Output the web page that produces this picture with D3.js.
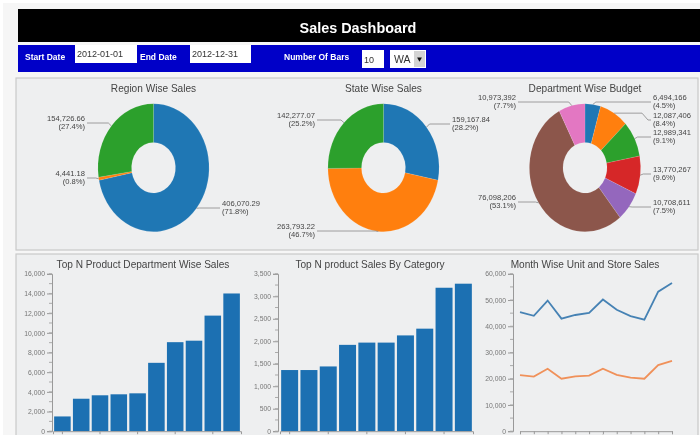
<!DOCTYPE html>
<html><head><meta charset="utf-8">
<script src="https://cdn.jsdelivr.net/npm/d3@7/dist/d3.min.js"></script>
<style>
html,body{margin:0;padding:0;background:#fff;overflow:hidden}
svg{display:block;filter:blur(.55px);font-family:"Liberation Sans",Arial,sans-serif}
</style></head><body>
<svg id="c" width="700" height="435"></svg>
<script>
// ---- data ----
const regionValues=[406070.29,4441.18,154726.66];
const regionLabels=["406,070.29","4,441.18","154,726.66"];
const regionPct=["(71.8%)","(0.8%)","(27.4%)"];
const stateValues=[159167.84,263793.22,142277.07];
const stateLabels=["159,167.84","263,793.22","142,277.07"];
const statePct=["(28.2%)","(46.7%)","(25.2%)"];
const deptValues=[6494166,12087406,12989341,13770267,10708611,76098206,10973392];
const deptLabels=["6,494,166","12,087,406","12,989,341","13,770,267","10,708,611","76,098,206","10,973,392"];
const deptPct=["(4.5%)","(8.4%)","(9.1%)","(9.6%)","(7.5%)","(53.1%)","(7.7%)"];
const deptSales=[1500,3300,3650,3750,3850,6950,9050,9200,11750,14000];
const catSales=[1360,1360,1440,1920,1970,1970,2130,2280,3190,3280];
const months=["Jan","Feb","Mar","Apr","May","Jun","Jul","Aug","Sep","Oct","Nov","Dec"];
const storeSales=[45400,44000,49800,42900,44300,45100,50200,46300,43900,42500,53200,56500];
const unitSales=[21400,20800,23800,20000,20900,21200,23800,21500,20400,20000,25200,26800];
const barIdx=[1,2,3,4,5,6,7,8,9,10];
const palette=["#1f77b4","#ff7f0e","#2ca02c","#d62728","#9467bd","#8c564b","#e377c2"];

const svg=d3.select("#c");
// ---- page frame ----
svg.append("rect").attr("x",3).attr("y",3).attr("width",697).attr("height",432).attr("fill","#f6f6f6");
svg.append("rect").attr("x",18).attr("y",9).attr("width",682).attr("height",33).attr("fill","#000");
svg.append("rect").attr("x",18).attr("y",45).attr("width",682).attr("height",27).attr("fill","#0000c8");
svg.append("text").attr("x",358).attr("y",33).attr("text-anchor","middle").attr("fill","#fff")
  .attr("font-weight","bold").attr("font-size",14.4).text("Sales Dashboard");
[["Start Date",25],["End Date",140],["Number Of Bars",284]].forEach(([t,x])=>
  svg.append("text").attr("x",x).attr("y",60).attr("fill","#fff").attr("font-weight","bold").attr("font-size",8.5).text(t));
[[75,62,45,18,"2012-01-01",77,57],[190,61,45,18,"2012-12-31",192,57],[362,22,50,18,"10",364,63],[390,36,50,18,"WA",394,63]].forEach(([x,w,y,h,t,tx,ty])=>{
  svg.append("rect").attr("x",x).attr("y",y).attr("width",w).attr("height",h).attr("fill","#fff");
  svg.append("text").attr("x",tx).attr("y",ty).attr("fill","#333").attr("font-size",t==="WA"?10.5:9).text(t);
});
svg.append("rect").attr("x",414).attr("y",51).attr("width",11).attr("height",16).attr("fill","#d4d4d4");
svg.append("path").attr("d",d3.symbol(d3.symbolTriangle,10)()).attr("transform","translate(419.5,59) rotate(180)").attr("fill","#111");
[[78,172],[254,190]].forEach(([y,h])=>
  svg.append("rect").attr("x",16).attr("y",y).attr("width",682).attr("height",h).attr("fill","#eeeff0").attr("stroke","#c9c9c9").attr("stroke-width",1.2));

// ---- donuts ----
function donut(cx,title,values,labels,pcts,layout,titleX){
  const cy=167.7,yScale=64/55.6;
  svg.append("text").attr("x",titleX).attr("y",92).attr("text-anchor","middle").attr("fill","#444").attr("font-size",10.1).text(title);
  const arcs=d3.pie().sort(null)(values);
  const arc=d3.arc().innerRadius(22).outerRadius(55.6);
  const g=svg.append("g").attr("transform",`translate(${cx},${cy}) scale(1,${yScale})`);
  g.selectAll("path").data(arcs).join("path").attr("d",arc).attr("fill",(d,i)=>palette[i])
    .attr("stroke","#fff").attr("stroke-opacity",.25).attr("stroke-width",.4);
  arcs.forEach((a,i)=>{
    const m=(a.startAngle+a.endAngle)/2;
    const mx=cx+Math.sin(m)*55.6, my=cy-Math.cos(m)*55.6*yScale;
    const [side,lx,ly,kx]=layout[i];
    const pts=kx!=null?[[mx,my],[kx,my],[kx+(side>0?6:-6),ly],[lx-side*2,ly]]:[[mx,my],[mx+side*3,ly],[lx-side*2,ly]];
    svg.append("path").attr("d",d3.line()(pts)).attr("fill","none").attr("stroke","#888").attr("stroke-width",.8);
    const anchor=side>0?"start":"end";
    svg.append("text").attr("x",lx).attr("y",ly-2).attr("text-anchor",anchor).attr("fill","#444").attr("font-size",7.6).text(labels[i]);
    svg.append("text").attr("x",lx).attr("y",ly+5.5).attr("text-anchor",anchor).attr("fill","#444").attr("font-size",7.6).text(pcts[i]);
  });
}
donut(153.5,"Region Wise Sales",regionValues,regionLabels,regionPct,[[1,222,208],[-1,85,178],[-1,85,123]],153.5);
donut(383.5,"State Wise Sales",stateValues,stateLabels,statePct,[[1,452,124],[-1,315,231],[-1,315,120]],383.5);
donut(585,"Department Wise Budget",deptValues,deptLabels,deptPct,[[1,653,102],[1,653,120,642],[1,653,137],[1,653,174],[1,653,207],[-1,516,202],[-1,516,102]],585);

// ---- shared axes ----
const y0=431.2,yTop=273.8;
function yAxis(x,maxV,step,fmt,minor){
  const y=d3.scaleLinear().domain([0,maxV]).range([y0,yTop]);
  const g=svg.append("g").attr("transform",`translate(${x},0)`);
  g.call(d3.axisLeft(y).tickValues(d3.range(0,maxV+1,step)).tickFormat(fmt).tickSizeOuter(0).tickSize(5).tickPadding(2));
  g.selectAll("text").attr("fill","#777").attr("font-size",6.8).attr("font-family","inherit");
  g.selectAll("line,path").attr("stroke","#999");
  g.selectAll("line.minor").data(d3.range(0,maxV+1,minor)).join("line").attr("class","minor")
    .attr("x1",-3).attr("x2",0).attr("y1",d=>y(d)).attr("y2",d=>y(d)).attr("stroke","#aaa");
  return y;
}
const title=(x,t)=>svg.append("text").attr("x",x).attr("y",268).attr("text-anchor","middle").attr("fill","#444").attr("font-size",10.1).text(t);
function xTicks(scale,values,rot){
  const g=svg.append("g").attr("transform",`translate(0,${y0})`);
  g.call(d3.axisBottom(scale).tickValues(values).tickSizeOuter(0).tickSize(3).tickFormat(rot?(d=>d):""));
  g.selectAll("line,path").attr("stroke","#999");
  if(rot) g.selectAll("text").attr("fill","#888").attr("font-size",7).attr("text-anchor","end")
    .attr("transform","rotate(-45)").attr("dx","-2").attr("dy","1").attr("font-family","inherit");
}
function bars(rng,vals,maxV,step,minor,axisX){
  const y=yAxis(axisX,maxV,step,d3.format(","),minor);
  const x=d3.scaleBand().domain(barIdx).range(rng).paddingInner(.12).paddingOuter(.06);
  svg.append("g").selectAll("rect").data(vals).join("rect")
    .attr("x",(d,i)=>x(barIdx[i])).attr("width",x.bandwidth()).attr("y",d=>y(d)).attr("height",d=>y0-y(d)).attr("fill","#1c70b2");
  xTicks(x,barIdx.filter(d=>d%2===1),false);
}
title(143,"Top N Product Department Wise Sales");
bars([53,241],deptSales,16000,2000,1000,52);
title(370,"Top N product Sales By Category");
bars([280,473],catSales,3500,500,250,278);
title(585,"Month Wise Unit and Store Sales");
const yL=yAxis(513,60000,10000,d3.format(","),5000);
const xL=d3.scalePoint().domain(months).range([520,672]);
xTicks(xL,months,true);
[[storeSales,"#4682b4"],[unitSales,"#f0915a"]].forEach(([v,c])=>
  svg.append("path").datum(v).attr("fill","none").attr("stroke",c).attr("stroke-width",1.8)
    .attr("d",d3.line().x((d,i)=>xL(months[i])).y(d=>yL(d))));
</script>
</body></html>
